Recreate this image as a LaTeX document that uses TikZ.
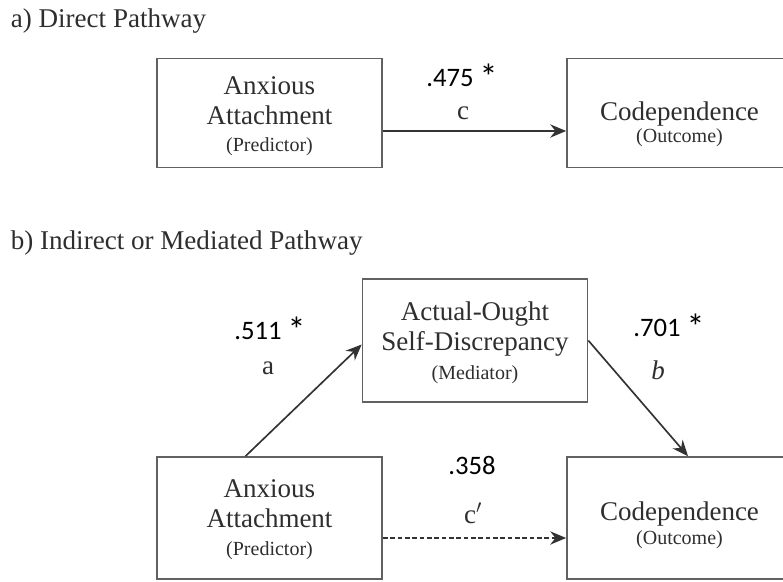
\documentclass[tikz,border=0pt]{standalone}
\usepackage{fontspec}
\setmainfont{Liberation Serif}
\newfontfamily\numfont{Carlito}
\usetikzlibrary{arrows.meta}

\newcommand{\sigmark}{\raisebox{-2.5pt}{\fontsize{27pt}{24pt}\selectfont*}}

\begin{document}
\begin{tikzpicture}[
    x = 0.75pt,
    y = -0.75pt,
    line width = 1.25pt,
    >={Stealth[length=12pt,width=10pt,inset=4pt]},
    box/.style = {
      draw = black!62,
      rectangle,
      minimum width = 168.75pt,
      inner sep = 0pt
    },
    boxtext/.style = {
      align = center,
      inner sep = 0pt,
      text = black!82,
      font = \fontsize{20.25pt}{22.5pt}\selectfont
    },
    coef/.style = {
      inner sep = 0pt,
      font = \numfont\fontsize{20pt}{24pt}\selectfont
    },
    heading/.style = {
      anchor = west,
      inner sep = 0pt,
      text = black!82,
      font = \fontsize{20.3pt}{24pt}\selectfont
    },
    path/.style = {
      draw = black!80,
      ->
    }
  ]
  \clip (0,0) rectangle (783,582);

  % a) direct pathway
  \node[heading] (heada) at (10,21) {a) Direct Pathway};

  \node[box, minimum height = 81.75pt] (pred1) at (269.5,113) {};
  \node[box, minimum height = 81.75pt] (out1) at (679.5,113) {};
  \node[boxtext] (pred1txt) at (269.5,116.5)
    {Anxious\\Attachment\\[-2pt]{\fontsize{15pt}{18pt}\selectfont (Predictor)}};
  \node[boxtext] (out1txt) at (679.5,124)
    {Codependence\\[-6pt]{\fontsize{15pt}{18pt}\selectfont (Outcome)}};

  \draw[path] ([yshift=-13.5pt]pred1.east) -- ([yshift=-13.5pt]out1.west);
  \node[coef] (c475) at (462,77) {.475 \sigmark};
  \node[boxtext] (lblc) at (463,113) {c};

  % b) indirect pathway
  \node[heading] (headb) at (10,243) {b) Indirect or Mediated Pathway};

  \node[box, minimum height = 92.25pt] (med) at (475,340.5) {};
  \node[box, minimum height = 91.5pt] (pred2) at (269.5,518) {};
  \node[box, minimum height = 91.5pt] (out2) at (679.5,518) {};
  \node[boxtext] (medtxt) at (475,343)
    {Actual-Ought\\Self-Discrepancy\\[-1pt]{\fontsize{15pt}{18pt}\selectfont (Mediator)}};
  \node[boxtext] (pred2txt) at (269.5,520)
    {Anxious\\Attachment\\[-1.5pt]{\fontsize{15pt}{18pt}\selectfont (Predictor)}};
  \node[boxtext] (out2txt) at (679.5,525)
    {Codependence\\[-4.5pt]{\fontsize{15pt}{18pt}\selectfont (Outcome)}};

  \draw[path] ([xshift=-18pt]pred2.north) -- ([yshift=-3pt]med.west);
  \draw[path] (med.east) -- ([xshift=6.4pt]out2.north);
  \draw[path, dash pattern = on 3.5pt off 2pt]
    ([yshift=-15pt]pred2.east) -- ([yshift=-15pt]out2.west);

  \node[coef] (c511) at (270,330) {.511 \sigmark};
  \node[boxtext] (lbla) at (268,368) {a};
  \node[coef] (c701) at (669,327) {.701 \sigmark};
  \node[boxtext] (lblb) at (658,370) {\itshape b};
  \node[coef] (c358) at (472,465) {.358};
  \node[boxtext] (lblc2) at (473,513) {c$'$};

\end{tikzpicture}
\end{document}
